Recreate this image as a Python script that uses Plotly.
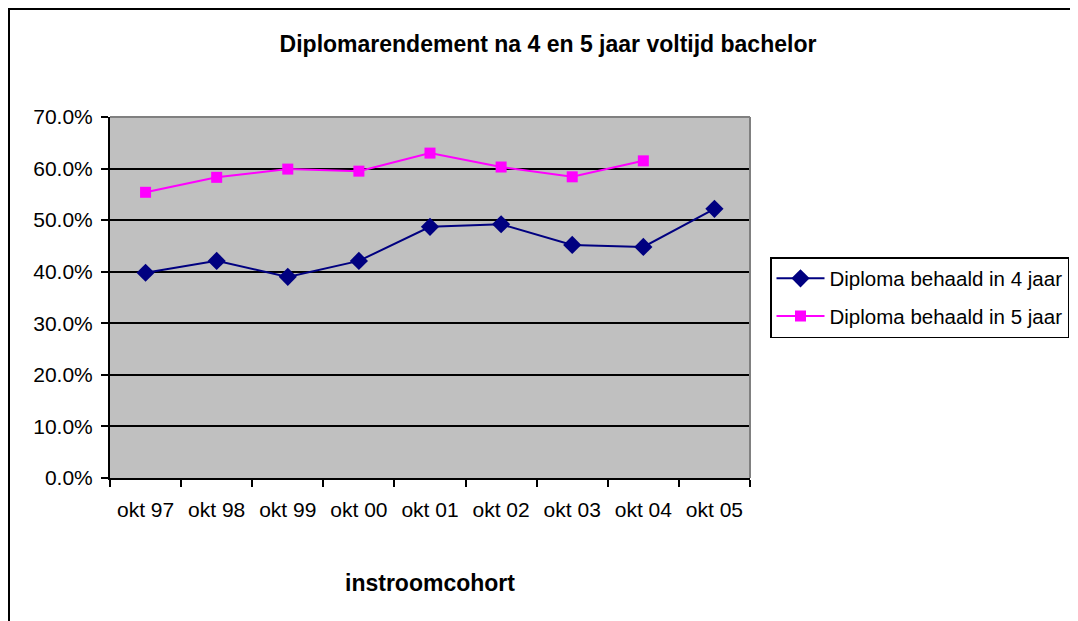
import plotly.graph_objects as go

categories = ["okt 97", "okt 98", "okt 99", "okt 00", "okt 01", "okt 02", "okt 03", "okt 04", "okt 05"]
diploma_4_jaar = [0.398, 0.421, 0.390, 0.421, 0.487, 0.492, 0.452, 0.448, 0.522]
diploma_5_jaar = [0.554, 0.583, 0.599, 0.595, 0.630, 0.603, 0.584, 0.615, None]
y_ticks = [0, 0.1, 0.2, 0.3, 0.4, 0.5, 0.6, 0.7]

OFF = 8  # page body margin
W, H = 1078 - OFF, 621 - OFF
L, R, T, B = 110 - OFF, 750 - OFF, 117 - OFF, 478 - OFF
FONT = "Liberation Sans, Arial, sans-serif"

fig = go.Figure()
fig.add_trace(go.Scatter(
    x=categories, y=diploma_4_jaar, mode="lines+markers",
    name="Diploma behaald in 4 jaar", legendgroup="g4",
    line=dict(color="#000080", width=2),
    marker=dict(symbol="diamond", size=14, color="#000080"),
))
fig.add_trace(go.Scatter(
    x=categories, y=diploma_5_jaar, mode="lines+markers",
    name="Diploma behaald in 5 jaar", legendgroup="g5",
    line=dict(color="#FF00FF", width=2),
    marker=dict(symbol="square", size=11, color="#FF00FF"),
))

pw, ph = R - L, B - T

def px(x):
    return (x - OFF - L) / pw

def py(y):
    return (B - (y - OFF)) / ph

shapes = [
    # outer chart border (top & left visible); drawn at the very edge of the figure
    dict(type="rect", xref="paper", yref="paper", x0=px(9), x1=px(1100), y0=py(9), y1=py(640),
         line=dict(color="black", width=2), fillcolor="rgba(0,0,0,0)", layer="below"),
    dict(type="line", xref="paper", yref="paper", x0=0, x1=1, y0=1, y1=1,
         line=dict(color="#808080", width=2)),
    dict(type="line", xref="paper", yref="paper", x0=1, x1=1, y0=0, y1=1,
         line=dict(color="#808080", width=2)),
]

fig.update_layout(
    width=W, height=H,
    margin=dict(l=L, r=W - R, t=T, b=H - B, autoexpand=False),
    paper_bgcolor="white", plot_bgcolor="#C0C0C0",
    font=dict(family=FONT, size=21, color="black"),
    title=dict(text="<b>Diplomarendement na 4 en 5 jaar voltijd bachelor</b>",
               xref="paper", x=px(548), xanchor="center",
               yref="container", y=1 - (44 - OFF) / H, yanchor="middle",
               font=dict(family=FONT, size=23, color="black")),
    showlegend=True,
    legend=dict(x=px(770), xanchor="left", y=py(257), yanchor="top",
                bordercolor="black", borderwidth=1.5, bgcolor="white",
                font=dict(family=FONT, size=20.5, color="black"),
                tracegroupgap=8, itemwidth=48),
    shapes=shapes,
    annotations=[dict(text="<b>instroomcohort</b>", xref="paper", yref="paper",
                      x=0.5, y=py(583), xanchor="center", yanchor="middle",
                      showarrow=False, font=dict(family=FONT, size=23, color="black"))],
)

fig.update_xaxes(
    type="category", tickson="boundaries", ticks="outside", ticklen=7,
    tickcolor="black", tickwidth=1.5, showline=True, linecolor="black", linewidth=2,
    showgrid=False, ticklabelstandoff=12, tickfont=dict(family=FONT, size=21),
    range=[-0.5, 8.5],
)
fig.update_yaxes(
    range=[0, 0.7], tickvals=y_ticks, tickformat=".1%", ticks="outside", ticklen=7,
    tickcolor="black", tickwidth=1.5, showline=True, linecolor="black", linewidth=2,
    showgrid=True, gridcolor="black", gridwidth=2, zeroline=False,
    ticklabelstandoff=4, tickfont=dict(family=FONT, size=21),
)

fig.write_html("out.html")
